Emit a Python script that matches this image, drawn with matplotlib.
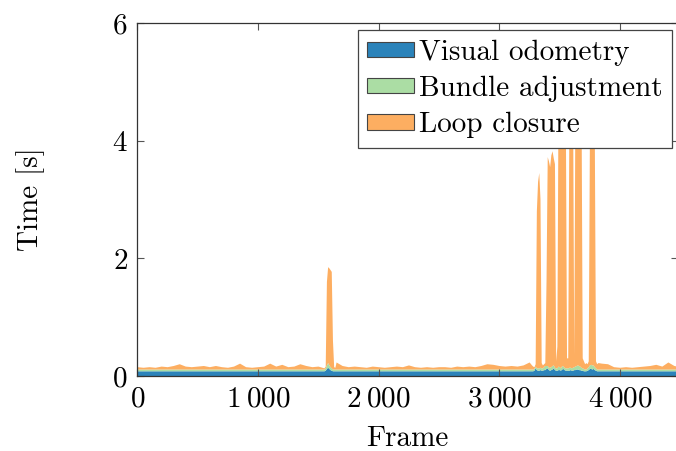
import matplotlib

matplotlib.use("Agg")
import matplotlib.pyplot as plt
import matplotlib.patches as mpatches
import matplotlib.ticker as mticker
import numpy as np

plt.rcParams["font.family"] = ["cmr10", "DejaVu Serif"]
plt.rcParams["mathtext.fontset"] = "cm"
plt.rcParams["axes.formatter.use_mathtext"] = True

# frame sampling: coarse on flat stretches, finer around the loop-closure spikes
frames = np.concatenate([
    np.arange(0, 1550, 50),
    np.arange(1550, 1650, 10),
    np.arange(1650, 3270, 50),
    np.arange(3270, 3830, 10),
    np.arange(3850, 4550, 50),
])

# per-frame timings [s]
visual_odometry = [
    # 0 .. 1500
    0.08, 0.08, 0.08, 0.08, 0.08, 0.08, 0.08, 0.08, 0.08, 0.08,
    0.08, 0.08, 0.08, 0.08, 0.08, 0.08, 0.08, 0.08, 0.08, 0.08,
    0.08, 0.08, 0.08, 0.08, 0.08, 0.08, 0.08, 0.08, 0.08, 0.08, 0.08,
    # 1550 .. 1640
    0.08, 0.09, 0.12, 0.14, 0.12, 0.10, 0.09, 0.08, 0.08, 0.08,
    # 1650 .. 3250
    0.08, 0.08, 0.08, 0.08, 0.08, 0.08, 0.08, 0.08, 0.08, 0.08,
    0.08, 0.08, 0.08, 0.08, 0.08, 0.08, 0.08, 0.08, 0.08, 0.08,
    0.08, 0.08, 0.08, 0.08, 0.08, 0.08, 0.08, 0.08, 0.08, 0.08,
    0.08, 0.08, 0.08,
    # 3270 .. 3820
    0.08, 0.08, 0.09, 0.13, 0.10, 0.09, 0.09, 0.10, 0.09, 0.09,
    0.10, 0.10, 0.12, 0.13, 0.10, 0.09, 0.10, 0.11, 0.13, 0.10,
    0.09, 0.09, 0.10, 0.10, 0.09, 0.11, 0.12, 0.10, 0.09, 0.09,
    0.09, 0.09, 0.10, 0.09, 0.09, 0.10, 0.10, 0.11, 0.11, 0.10,
    0.10, 0.09, 0.09, 0.08, 0.08, 0.08, 0.09, 0.10, 0.12, 0.12,
    0.11, 0.12, 0.10, 0.09, 0.08, 0.08,
    # 3850 .. 4500
    0.08, 0.08, 0.08, 0.08, 0.08, 0.08, 0.08, 0.08, 0.08, 0.08,
    0.08, 0.08, 0.08, 0.08,
]

bundle_adjustment = [
    # 0 .. 1500
    0.03, 0.03, 0.03, 0.03, 0.03, 0.03, 0.03, 0.03, 0.03, 0.03,
    0.03, 0.03, 0.03, 0.03, 0.03, 0.03, 0.03, 0.03, 0.03, 0.03,
    0.03, 0.03, 0.03, 0.03, 0.03, 0.03, 0.03, 0.03, 0.03, 0.03, 0.03,
    # 1550 .. 1640
    0.03, 0.04, 0.06, 0.08, 0.06, 0.05, 0.04, 0.03, 0.03, 0.03,
    # 1650 .. 3250
    0.03, 0.03, 0.03, 0.03, 0.03, 0.03, 0.03, 0.03, 0.03, 0.03,
    0.03, 0.03, 0.03, 0.03, 0.03, 0.03, 0.03, 0.03, 0.03, 0.03,
    0.03, 0.03, 0.03, 0.03, 0.03, 0.03, 0.03, 0.03, 0.03, 0.03,
    0.03, 0.03, 0.03,
    # 3270 .. 3820
    0.03, 0.03, 0.03, 0.03, 0.03, 0.04, 0.04, 0.04, 0.04, 0.04,
    0.05, 0.07, 0.05, 0.04, 0.04, 0.05, 0.05, 0.06, 0.05, 0.04,
    0.04, 0.04, 0.06, 0.05, 0.04, 0.06, 0.04, 0.04, 0.04, 0.04,
    0.04, 0.05, 0.04, 0.04, 0.05, 0.05, 0.06, 0.06, 0.07, 0.07,
    0.06, 0.05, 0.04, 0.04, 0.03, 0.03, 0.04, 0.05, 0.06, 0.07,
    0.07, 0.06, 0.05, 0.04, 0.03, 0.03,
    # 3850 .. 4500
    0.03, 0.03, 0.03, 0.03, 0.03, 0.03, 0.03, 0.03, 0.03, 0.03,
    0.03, 0.03, 0.03, 0.03,
]

loop_closure = [
    # 0 .. 1500
    0.04, 0.03, 0.04, 0.03, 0.05, 0.04, 0.06, 0.09, 0.05, 0.04,
    0.05, 0.06, 0.04, 0.06, 0.04, 0.03, 0.05, 0.10, 0.04, 0.03,
    0.04, 0.05, 0.10, 0.05, 0.08, 0.04, 0.05, 0.09, 0.06, 0.04, 0.05,
    # 1550 .. 1640
    0.02, 0.03, 1.42, 1.63, 1.65, 1.65, 1.64, 0.49, 0.04, 0.03,
    # 1650 .. 3250
    0.12, 0.06, 0.04, 0.05, 0.04, 0.03, 0.05, 0.04, 0.03, 0.04,
    0.05, 0.04, 0.07, 0.04, 0.03, 0.04, 0.03, 0.04, 0.04, 0.03,
    0.05, 0.04, 0.05, 0.04, 0.06, 0.09, 0.08, 0.06, 0.05, 0.06,
    0.05, 0.07, 0.12,
    # 3270 .. 3820
    0.07, 0.05, 0.03, 0.04, 2.67, 3.17, 3.32, 2.86, 0.09, 0.05,
    0.05, 0.05, 1.43, 3.55, 3.51, 3.41, 3.60, 3.65, 3.52, 3.46,
    0.12, 0.37, 4.84, 5.05, 4.97, 5.03, 5.14, 5.06, 4.37, 0.17,
    0.17, 4.46, 4.66, 4.67, 4.56, 0.20, 4.74, 4.83, 4.82, 4.83,
    4.74, 4.66, 0.17, 0.13, 0.09, 0.11, 0.07, 0.10, 4.02, 4.21,
    4.32, 4.32, 4.05, 0.12, 0.09, 0.11,
    # 3850 .. 4500
    0.10, 0.09, 0.04, 0.03, 0.04, 0.03, 0.04, 0.05, 0.06, 0.08,
    0.05, 0.12, 0.06, 0.04,
]

labels = ["Visual odometry", "Bundle adjustment", "Loop closure"]
colors = ["#2b83ba", "#abdda4", "#fdae61"]
x_ticks = [0, 1000, 2000, 3000, 4000]
y_ticks = [0, 2, 4, 6]

fig = plt.figure(figsize=(6.76, 4.51), dpi=100)
ax = fig.add_axes([0.2034, 0.1663, 0.7996, 0.7827])

ax.stackplot(frames, visual_odometry, bundle_adjustment, loop_closure,
             colors=colors, linewidth=0)

ax.set_xlim(0, 4480)
ax.set_ylim(0, 6)
ax.set_xticks(x_ticks)
ax.set_yticks(y_ticks)
ax.xaxis.set_major_formatter(mticker.FuncFormatter(
    lambda v, _: f"${int(v):,}$".replace(",", r"\:")))
ax.yaxis.set_major_formatter(mticker.FuncFormatter(lambda v, _: f"${int(v)}$"))
ax.tick_params(direction="in", length=5, width=0.8, color="#555555",
               top=True, right=True, labelsize=21, pad=7)
for s in ax.spines.values():
    s.set_color("#333333")
    s.set_linewidth(0.9)

ax.set_xlabel("Frame", fontsize=21, labelpad=10)
ax.set_ylabel("Time [s]", fontsize=21, labelpad=48)

handles = [mpatches.Patch(facecolor=c, edgecolor="#444444", linewidth=0.8)
           for c in colors]
leg = ax.legend(handles, labels, loc="upper right", bbox_to_anchor=(0.989, 0.98),
                borderaxespad=0, fontsize=21, fancybox=False, framealpha=1,
                edgecolor="#444444", handlelength=1.6, handleheight=0.45,
                handletextpad=0.18, labelspacing=0.34, borderpad=0.32)
leg.get_frame().set_linewidth(0.9)

fig.savefig("out.png", dpi=100)
